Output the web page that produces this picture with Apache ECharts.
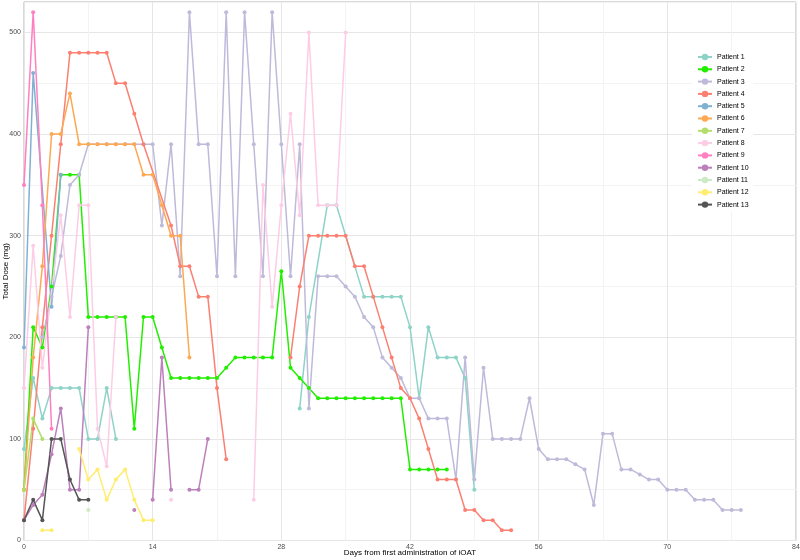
<!DOCTYPE html>
<html>
<head>
<meta charset="utf-8">
<script src="https://cdn.jsdelivr.net/npm/echarts@6/dist/echarts.min.js"></script>
<style>
  html, body { margin: 0; padding: 0; background: #fff; }
  #main { width: 800px; height: 560px; }
</style>
</head>
<body>
<div id="main"></div>
<script>
// [day, dose]; null = gap in the line
var patient1 = [[0,90],[1,160],[2,120],[3,150],[4,150],[5,150],[6,150],[7,100],[8,100],[9,150],[10,100],null,
  [30,130],[31,220],[33,330],[34,330],[37,240],[38,240],[39,240],[40,240],[41,240],[42,210],[43,140],[44,210],
  [45,180],[46,180],[47,180],[48,160],[49,50]];
var patient2 = [[0,50],[1,210],[2,190],[3,250],[4,360],[5,360],[6,360],[7,220],[8,220],[9,220],[10,220],[11,220],
  [12,110],[13,220],[14,220],[15,190],[16,160],[17,160],[18,160],[19,160],[20,160],[21,160],[22,170],[23,180],
  [24,180],[25,180],[26,180],[27,180],[28,265],[29,170],[30,160],[31,150],[32,140],[33,140],[34,140],[35,140],
  [36,140],[37,140],[38,140],[39,140],[40,140],[41,140],[42,70],[43,70],[44,70],[45,70],[46,70]];
var patient3 = [[2,200],[3,240],[4,280],[5,350],[6,360],[7,390],[8,390],[9,390],[10,390],[11,390],[12,390],[13,390],
  [14,390],[15,310],[16,390],[17,260],[18,520],[19,390],[20,390],[21,260],[22,520],[23,260],[24,520],[25,390],
  [26,260],[27,520],[28,390],[29,260],[30,390],[31,130],[32,260],[33,260],[34,260],[35,250],[36,240],[37,220],
  [38,210],[39,180],[40,170],[41,160],[42,140],[43,140],[44,120],[45,120],[46,120],[47,60],[48,180],[49,60],
  [50,170],[51,100],[52,100],[53,100],[54,100],[55,140],[56,90],[57,80],[58,80],[59,80],[60,75],[61,70],[62,35],
  [63,105],[64,105],[65,70],[66,70],[67,65],[68,60],[69,60],[70,50],[71,50],[72,50],[73,40],[74,40],[75,40],
  [76,30],[77,30],[78,30]];
var patient4 = [[0,20],[1,110],[2,210],[3,300],[4,390],[5,480],[6,480],[7,480],[8,480],[9,480],[10,450],[11,450],
  [12,420],[13,390],[16,310],[17,270],[18,270],[19,240],[20,240],[21,150],[22,80],null,
  [29,180],[30,250],[31,300],[32,300],[33,300],[34,300],[35,300],[36,270],[37,270],[38,240],[39,210],[40,180],
  [41,150],[42,140],[43,120],[44,90],[45,60],[46,60],[47,60],[48,30],[49,30],[50,20],[51,20],[52,10],[53,10]];
var patient5 = [[0,190],[1,460],[3,230],[4,360]];
var patient6 = [[0,50],[1,180],[2,270],[3,400],[4,400],[5,440],[6,390],[7,390],[8,390],[9,390],[10,390],[11,390],
  [12,390],[13,360],[14,360],[15,330],[16,300],[17,300],[18,180]];
var patient7 = [[0,50],[1,120],[2,100]];
var patient8 = [[0,150],[1,290],[2,170],[4,320],[5,220],[6,330],[7,330],[8,110],[9,73],[10,220],null,
  [16,40],null,[25,40],[26,350],[27,230],[28,330],[29,420],[30,320],[31,500],[32,330],[33,330],[34,330],[35,500]];
var patient9 = [[0,350],[1,520],[2,330],[3,110]];
var patient10 = [[0,20],[1,35],[2,45],[3,85],[4,130],[5,50],[6,50],[7,210],null,[12,30],null,
  [14,40],[15,180],[16,50],null,[18,50],[19,50],[20,100]];
var patient11 = [[7,30]];
var patient12 = [[2,10],[3,10],null,[6,90],[7,60],[8,70],[9,40],[10,60],[11,70],[12,40],[13,20],[14,20]];
var patient13 = [[0,20],[1,40],[2,20],[3,100],[4,100],[5,60],[6,40],[7,40]];

var names = ['Patient 1','Patient 2','Patient 3','Patient 4','Patient 5','Patient 6','Patient 7',
  'Patient 8','Patient 9','Patient 10','Patient 11','Patient 12','Patient 13'];
var colors = ['#8DD3C7','#22EE00','#BEBADA','#FB8072','#80B1D3','#FDA853','#B3DE69',
  '#FCCDE5','#FF7FC0','#BC80BD','#CCEBC5','#FFED6F','#555555'];
var allData = [patient1, patient2, patient3, patient4, patient5, patient6, patient7,
  patient8, patient9, patient10, patient11, patient12, patient13];

var series = [];
for (var i = 0; i < names.length; i++) {
  series.push({
    name: names[i],
    type: 'line',
    data: allData[i].map(function (p) { return p === null ? '-' : p; }),
    connectNulls: false,
    symbol: 'circle',
    symbolSize: 4,
    showSymbol: true,
    lineStyle: { width: 1.5, color: colors[i] },
    itemStyle: { color: colors[i] },
    emphasis: { disabled: true }
  });
}

var myChart = echarts.init(document.getElementById('main'));
var option = {
  animation: false,
  backgroundColor: '#fff',
  color: colors,
  grid: {
    left: 24, right: 4, top: 2, bottom: 19.5,
    containLabel: false, outerBoundsMode: 'none',
    show: true, borderColor: '#b3b3b3', borderWidth: 1
  },
  legend: {
    orient: 'vertical',
    left: 692, top: 50,
    padding: [3, 5],
    backgroundColor: '#fff',
    itemWidth: 14, itemHeight: 8, itemGap: 4.3,
    textStyle: { fontSize: 7, color: '#000', fontFamily: 'Liberation Sans', lineHeight: 8 },
    data: names
  },
  xAxis: {
    type: 'value',
    min: 0, max: 84, interval: 7,
    name: 'Days from first administration of iOAT',
    nameLocation: 'middle', nameGap: 8, nameMoveOverlap: false,
    nameTextStyle: { fontSize: 8, color: '#000', fontFamily: 'Liberation Sans', verticalAlign: 'top' },
    axisLine: { show: false },
    axisTick: { show: false },
    axisLabel: {
      fontSize: 7, color: '#4d4d4d', margin: 3, fontFamily: 'Liberation Sans',
      formatter: function (v) { return v % 14 === 0 ? String(v) : ''; }
    },
    splitLine: { show: true, lineStyle: { color: ['#e6e6e6', '#f3f3f3'], width: 1 } }
  },
  yAxis: {
    type: 'value',
    min: 0, max: 530, interval: 50,
    name: 'Total Dose (mg)',
    nameLocation: 'middle', nameGap: 14, nameMoveOverlap: false,
    nameTextStyle: { fontSize: 8, color: '#000', fontFamily: 'Liberation Sans' },
    axisLine: { show: false },
    axisTick: { show: false },
    axisLabel: {
      fontSize: 7, color: '#4d4d4d', margin: 3, fontFamily: 'Liberation Sans',
      formatter: function (v) { return (v % 100 === 0) ? String(v) : ''; }
    },
    splitLine: { show: true, lineStyle: { color: ['#e6e6e6', '#f3f3f3'], width: 1 } }
  },
  series: series
};
myChart.setOption(option);
</script>
</body>
</html>
